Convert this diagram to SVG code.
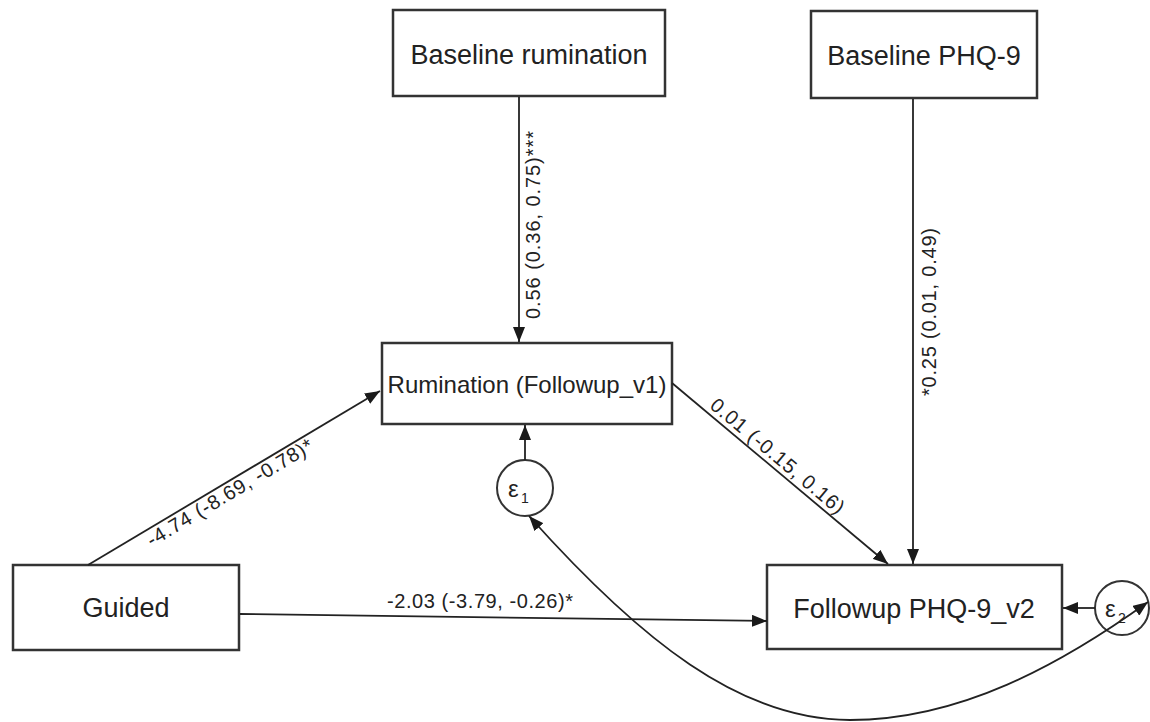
<svg xmlns="http://www.w3.org/2000/svg" width="1150" height="722" viewBox="0 0 1150 722">
<defs>
<marker id="ah" markerUnits="userSpaceOnUse" markerWidth="16" markerHeight="12" viewBox="0 0 16 12" refX="15" refY="6" orient="auto-start-reverse">
<path d="M0,0 L15,6 L0,12 z" fill="#1a1a1a"/>
</marker>
</defs>
<style>
.box{fill:#fff;stroke:#333;stroke-width:2.5}
.circ{fill:none;stroke:#333;stroke-width:2}
.nt{font-family:"Liberation Sans",Arial,sans-serif;font-size:27px;fill:#222;text-anchor:middle}
.lbl{font-family:"Liberation Sans",Arial,sans-serif;font-size:20px;fill:#222;text-anchor:middle}
.edge{fill:none;stroke:#222;stroke-width:1.8;marker-end:url(#ah)}
.eps{font-family:"Liberation Sans",Arial,sans-serif;font-size:24px;fill:#222}
.sub{font-family:"Liberation Sans",Arial,sans-serif;font-size:14px;fill:#222}
</style>
<rect width="1150" height="722" fill="#fff"/>
<g id="baseline-rumination">
<rect class="box" x="393" y="10" width="272" height="86"/>
<text class="nt" x="529" y="64">Baseline rumination</text>
</g>
<g id="baseline-phq9">
<rect class="box" x="811" y="11" width="226" height="87"/>
<text class="nt" x="924" y="65">Baseline PHQ-9</text>
</g>
<g id="rumination-followup">
<rect class="box" x="382" y="343" width="290" height="81"/>
<text class="nt" x="527" y="393" style="font-size:24px">Rumination (Followup_v1)</text>
</g>
<g id="guided">
<rect class="box" x="13" y="565" width="226" height="85"/>
<text class="nt" x="126" y="617">Guided</text>
</g>
<g id="followup-phq9">
<rect class="box" x="767" y="565" width="295" height="84"/>
<text class="nt" x="914" y="618">Followup PHQ-9_v2</text>
</g>
<g id="epsilon1">
<circle class="circ" cx="525" cy="488" r="28"/>
<text class="eps" x="508" y="497">ε</text><text class="sub" x="521" y="503">1</text>
</g>
<g id="epsilon2">
<circle class="circ" cx="1122" cy="608" r="27"/>
<text class="eps" x="1105" y="617">ε</text><text class="sub" x="1118" y="623">2</text>
</g>
<g id="connectors">
<line class="edge" x1="519" y1="97" x2="519" y2="342"/>
<line class="edge" x1="913" y1="99" x2="913" y2="564"/>
<line class="edge" x1="88" y1="565" x2="380" y2="391"/>
<line class="edge" x1="672" y1="383" x2="888" y2="564"/>
<line class="edge" x1="240" y1="614" x2="767" y2="621"/>
<line class="edge" x1="525" y1="460" x2="525" y2="425"/>
<line class="edge" x1="1095" y1="608" x2="1063" y2="608"/>
<path class="edge" style="marker-start:url(#ah)" d="M529,516 C640,640 740,720 850,720 C960,720 1060,665 1148,602"/>
<text class="lbl" transform="translate(519,225) rotate(-90)" y="21" textLength="188">0.56 (0.36, 0.75)***</text>
<text class="lbl" transform="translate(913,312) rotate(-90)" y="23" textLength="168">*0.25 (0.01, 0.49)</text>
<text class="lbl" transform="translate(224,483) rotate(-30.96)" y="18" textLength="190">-4.74 (-8.69, -0.78)*</text>
<text class="lbl" transform="translate(770,465) rotate(39.96)" y="-5" textLength="168">0.01 (-0.15, 0.16)</text>
<text class="lbl" x="480" y="608" textLength="186">-2.03 (-3.79, -0.26)*</text>
</g>
</svg>
